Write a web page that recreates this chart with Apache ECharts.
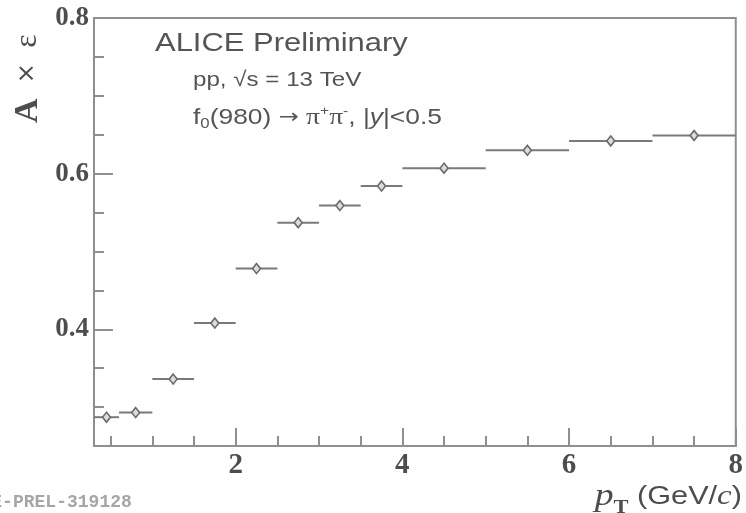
<!DOCTYPE html>
<html>
<head>
<meta charset="utf-8">
<script src="https://cdn.jsdelivr.net/npm/echarts@6/dist/echarts.min.js"></script>
<style>
html,body{margin:0;padding:0;background:#fff;}
#chart{width:746px;height:513px;}
</style>
</head>
<body>
<div id="chart"></div>
<script>
// ---- data ----
const binLow    = [0.3, 0.6, 1.0, 1.5, 2.0, 2.5, 3.0, 3.5, 4.0, 5.0, 6.0, 7.0];
const binHigh   = [0.6, 1.0, 1.5, 2.0, 2.5, 3.0, 3.5, 4.0, 5.0, 6.0, 7.0, 8.0];
const binCenter = [0.45, 0.8, 1.25, 1.75, 2.25, 2.75, 3.25, 3.75, 4.5, 5.5, 6.5, 7.5];
const accEff    = [0.287, 0.293, 0.336, 0.408, 0.478, 0.537, 0.559, 0.584, 0.607, 0.630, 0.642, 0.649];

const xMajorTicks = [2, 4, 6, 8];
const xMinorTicks = [0.5, 1, 1.5, 2.5, 3, 3.5, 4.5, 5, 5.5, 6.5, 7, 7.5];
const yMajorTicks = [0.4, 0.6, 0.8];
const yMinorTicks = [0.3, 0.35, 0.45, 0.5, 0.55, 0.65, 0.7, 0.75];

const xMin = 0.3, xMax = 8, yMin = 0.25, yMax = 0.8;

// ---- chart ----
const chart = echarts.init(document.getElementById('chart'), null, {renderer: 'canvas'});
const axisGray = '#8f8f8f';
const textGray = '#4d4d4d';
const labelGray = '#555555';

const errData = binCenter.map((c, i) => [binLow[i], binHigh[i], accEff[i]]);
const ptData = binCenter.map((c, i) => [c, accEff[i]]);

const option = {
  backgroundColor: '#ffffff',
  animation: false,
  grid: {left: 94, right: 7, top: 18, bottom: 67, show: true, borderColor: axisGray, borderWidth: 2, backgroundColor: 'transparent'},
  xAxis: [
    {
      type: 'value', min: xMin, max: xMax,
      axisLine: {show: true, lineStyle: {color: axisGray, width: 2}},
      axisTick: {show: true, inside: true, length: 18, customValues: xMajorTicks, lineStyle: {color: axisGray, width: 2}},
      axisLabel: {show: true, customValues: xMajorTicks, margin: 5, fontFamily: 'Liberation Serif', fontWeight: 'bold', fontSize: 29, color: textGray},
      splitLine: {show: false}
    },
    {
      type: 'value', min: xMin, max: xMax, position: 'bottom',
      axisLine: {show: false},
      axisTick: {show: true, inside: true, length: 10, customValues: xMinorTicks, lineStyle: {color: axisGray, width: 2}},
      axisLabel: {show: false},
      splitLine: {show: false}
    }
  ],
  yAxis: [
    {
      type: 'value', min: yMin, max: yMax,
      axisLine: {show: true, lineStyle: {color: axisGray, width: 2}},
      axisTick: {show: true, inside: true, length: 19, customValues: yMajorTicks, lineStyle: {color: axisGray, width: 2}},
      axisLabel: {show: true, customValues: yMajorTicks, margin: 5, fontFamily: 'Liberation Serif', fontWeight: 'bold', fontSize: 27, color: textGray, formatter: v => v.toFixed(1)},
      splitLine: {show: false}
    },
    {
      type: 'value', min: yMin, max: yMax, position: 'left',
      axisLine: {show: false},
      axisTick: {show: true, inside: true, length: 10, customValues: yMinorTicks, lineStyle: {color: axisGray, width: 2}},
      axisLabel: {show: false},
      splitLine: {show: false}
    }
  ],
  series: [
    {
      type: 'custom',
      xAxisIndex: 0, yAxisIndex: 0,
      data: errData,
      renderItem: function (params, api) {
        const p1 = api.coord([api.value(0), api.value(2)]);
        const p2 = api.coord([api.value(1), api.value(2)]);
        return {
          type: 'line',
          shape: {x1: p1[0], y1: p1[1], x2: p2[0], y2: p2[1]},
          style: {stroke: '#7a7a7a', lineWidth: 2}
        };
      },
      z: 2
    },
    {
      type: 'scatter',
      xAxisIndex: 0, yAxisIndex: 0,
      data: ptData,
      symbol: 'diamond',
      symbolSize: [8, 10],
      itemStyle: {color: '#dcdcdc', borderColor: '#6a6a6a', borderWidth: 1.6, opacity: 1},
      z: 3
    }
  ],
  graphic: [
    {
      type: 'text', x: 155, y: 44, scaleX: 1.19,
      style: {text: 'ALICE Preliminary', font: '26px "Liberation Sans"', fill: labelGray, align: 'left', verticalAlign: 'middle'}
    },
    {
      type: 'text', x: 193, y: 80, scaleX: 1.15,
      style: {text: 'pp, √s = 13 TeV', font: '21px "Liberation Sans"', fill: labelGray, align: 'left', verticalAlign: 'middle'}
    },
    {
      type: 'text', x: 193, y: 118, scaleX: 1.2,
      style: {
        text: '{n|f}{sub|0}{n|(980) }{a|→}{n| }{p|π}{sup|+}{p|π}{sup|-}{n|, |}{i|y}{n||<0.5}',
        align: 'left', verticalAlign: 'middle',
        rich: {
          n: {fontFamily: 'Liberation Sans', fontSize: 22, fill: labelGray, lineHeight: 26},
          p: {fontFamily: 'Liberation Serif', fontSize: 23, fill: labelGray, lineHeight: 26},
          a: {fontFamily: 'DejaVu Sans', fontSize: 20, fill: labelGray, lineHeight: 26},
          i: {fontFamily: 'Liberation Sans', fontStyle: 'italic', fontSize: 22, fill: labelGray, lineHeight: 26},
          sub: {fontFamily: 'Liberation Sans', fontSize: 14, fill: labelGray, lineHeight: 14, verticalAlign: 'bottom'},
          sup: {fontFamily: 'Liberation Sans', fontSize: 13, fill: labelGray, lineHeight: 13, verticalAlign: 'top'}
        }
      }
    },
    {
      type: 'text', x: 28, y: 123, rotation: Math.PI / 2,
      style: {
        text: '{a|A}{b|  ×  }{c|ε}',
        align: 'left', verticalAlign: 'middle',
        rich: {
          a: {fontFamily: 'Liberation Serif', fontWeight: 'bold', fontSize: 34, fill: textGray, lineHeight: 36},
          b: {fontFamily: 'DejaVu Sans', fontSize: 24, fill: textGray, lineHeight: 36},
          c: {fontFamily: 'Liberation Serif', fontSize: 32, fill: textGray, lineHeight: 36}
        }
      }
    },
    {
      type: 'text', x: 742, y: 497, scaleX: 1.18,
      style: {
        text: '{p|p}{t|T}{s| (GeV/}{c|c}{s|)}',
        align: 'right', verticalAlign: 'middle',
        rich: {
          p: {fontFamily: 'Liberation Serif', fontStyle: 'italic', fontSize: 32, fill: textGray, lineHeight: 30},
          t: {fontFamily: 'Liberation Serif', fontWeight: 'bold', fontSize: 19, fill: textGray, lineHeight: 19, verticalAlign: 'bottom', padding: [0, 0, -6, 0]},
          s: {fontFamily: 'Liberation Sans', fontSize: 26, fill: textGray, lineHeight: 30},
          c: {fontFamily: 'Liberation Serif', fontStyle: 'italic', fontSize: 28, fill: textGray, lineHeight: 30}
        }
      }
    },
    {
      type: 'text', x: -52, y: 503, scaleX: 1.03,
      style: {text: 'ALICE-PREL-319128', font: 'bold 17.5px "Liberation Mono"', fill: '#a6a6a6', align: 'left', verticalAlign: 'middle'}
    }
  ]
};
chart.setOption(option);
</script>
</body>
</html>
